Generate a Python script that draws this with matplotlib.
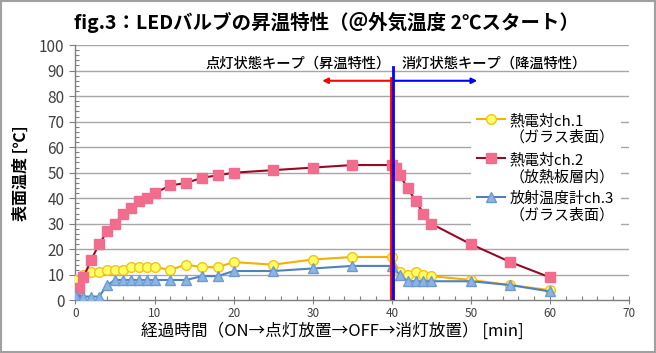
import matplotlib
matplotlib.use("Agg")
import matplotlib.pyplot as plt
from matplotlib.patches import Rectangle
from matplotlib.ticker import MultipleLocator

plt.rcParams['font.family'] = ['Noto Sans CJK JP', 'DejaVu Sans']

# ---- data ----
t1 = [0, 1, 2, 3, 4, 5, 6, 7, 8, 9, 10, 12, 14, 16, 18, 20, 25, 30, 35, 40,
      41, 42, 43, 44, 45, 50, 55, 60]
v1 = [8, 10, 11, 11, 12, 12, 12, 13, 13, 13, 13, 12, 14, 13, 13, 15, 14, 16, 17, 17,
      11, 10, 11, 10, 9.5, 8, 6, 4]

t2 = [0, 0.5, 1, 2, 3, 4, 5, 6, 7, 8, 9, 10, 12, 14, 16, 18, 20, 25, 30, 35, 40,
      40.5, 41, 42, 43, 44, 45, 50, 55, 60]
v2 = [2, 5, 9, 16, 22, 27, 30, 34, 36, 39, 40, 42, 45, 46, 48, 49, 50, 51, 52, 53, 53,
      52, 49, 44, 39, 34, 30, 22, 15, 9]

t3 = [0, 1, 2, 3, 4, 5, 6, 7, 8, 9, 10, 12, 14, 16, 18, 20, 25, 30, 35, 40,
      41, 42, 43, 44, 45, 50, 55, 60]
v3 = [2, 1.5, 1.5, 1.5, 6, 8, 8, 8, 8, 8, 8, 8, 8, 9.5, 9.5, 11.5, 11.5, 12.5, 13.5, 13.5,
      10, 7.5, 7.5, 7.5, 7.5, 7.5, 6, 3.5]

labels = ['熱電対ch.1\n（ガラス表面）', '熱電対ch.2\n（放熱板層内）', '放射温度計ch.3\n（ガラス表面）']
title = 'fig.3：LEDバルブの昇温特性（＠外気温度 2℃スタート）'
xlabel = '経過時間（ON→点灯放置→OFF→消灯放置） [min]'
ylabel = '表面温度 [℃]'
on_text = '点灯状態キープ（昇温特性）'
off_text = '消灯状態キープ（降温特性）'
switch_time = 40

fig = plt.figure(figsize=(6.56, 3.53), dpi=100)
ax = fig.add_axes([0.115, 0.149, 0.844, 0.7235])

for y in range(10, 101, 10):
    ax.axhline(y, color='#a6a6a6', lw=1.0, zorder=0)

ax.plot(t1, v1, color='#f5b000', lw=1.5, marker='o', ms=7,
        mfc='#ffff66', mec='#f5c21b', label=labels[0], zorder=3)
ax.plot(t2, v2, color='#960a28', lw=1.5, marker='s', ms=6.5,
        mfc='#f26d8d', mec='#f26d8d', label=labels[1], zorder=4)
ax.plot(t3, v3, color='#4f81bd', lw=1.5, marker='^', ms=7,
        mfc='#8db4e2', mec='#6b9bd2', label=labels[2], zorder=5)

# switch lines and arrows
ax.plot([switch_time - 0.15] * 2, [0, 87], color='#ff0000', lw=2, zorder=6)
ax.plot([switch_time + 0.2] * 2, [0, 91.5], color='#0000ff', lw=2, zorder=6)
ax.annotate('', xy=(31.2, 86), xytext=(switch_time - 0.15, 86),
            arrowprops=dict(arrowstyle='-|>', color='#ff0000', lw=1.5,
                            mutation_scale=8, shrinkA=0, shrinkB=0))
ax.annotate('', xy=(50.8, 86), xytext=(switch_time + 0.2, 86),
            arrowprops=dict(arrowstyle='-|>', color='#0000ff', lw=1.5,
                            mutation_scale=8, shrinkA=0, shrinkB=0))
ax.text(28.1, 92.9, on_text, ha='center', va='center', fontsize=10.3, fontweight='medium')
ax.text(53.0, 92.9, off_text, ha='center', va='center', fontsize=10.3, fontweight='medium')

ax.set_xlim(0, 70)
ax.set_ylim(0, 100)
ax.xaxis.set_major_locator(MultipleLocator(10))
ax.xaxis.set_minor_locator(MultipleLocator(2))
ax.yaxis.set_major_locator(MultipleLocator(10))
ax.yaxis.set_minor_locator(MultipleLocator(2))
ax.tick_params(axis='x', which='major', direction='inout', length=6, width=0.8,
               color='#7f7f7f', labelsize=8.5, labelcolor='#404040', pad=2)
ax.tick_params(axis='x', which='minor', direction='in', length=3, width=0.8, color='#7f7f7f')
ax.tick_params(axis='y', which='major', direction='out', length=4, width=0.8,
               color='#7f7f7f', labelsize=11, labelcolor='#404040', pad=4)
ax.tick_params(axis='y', which='minor', direction='in', length=3, width=0.8, color='#7f7f7f')
for s in ['top', 'right']:
    ax.spines[s].set_visible(False)
for s in ['left', 'bottom']:
    ax.spines[s].set_color('#7f7f7f')
    ax.spines[s].set_linewidth(1.0)

ax.set_ylabel(ylabel, fontsize=11.5, fontweight='bold')
ax.yaxis.set_label_coords(-0.084, 0.5)
fig.text(0.506, 0.062, xlabel, ha='center', va='center', fontsize=12)
fig.text(0.497, 0.935, title, ha='center', va='center', fontsize=14, fontweight='bold')

leg = ax.legend(loc='upper left', bbox_to_anchor=(0.70, 0.785), fontsize=10.8,
                frameon=True, facecolor='white', edgecolor='none', framealpha=1,
                handlelength=1.9, handletextpad=0.3, labelspacing=0.5,
                borderpad=0.4, fancybox=False)
for col in leg._legend_handle_box.get_children():
    for item in col.get_children():
        item.align = 'top'

fig.patches.append(Rectangle((0.002, 0.003), 0.996, 0.994, transform=fig.transFigure,
                             fill=False, edgecolor='#a0a0a0', lw=1.5))

fig.savefig('out.png', dpi=100)
